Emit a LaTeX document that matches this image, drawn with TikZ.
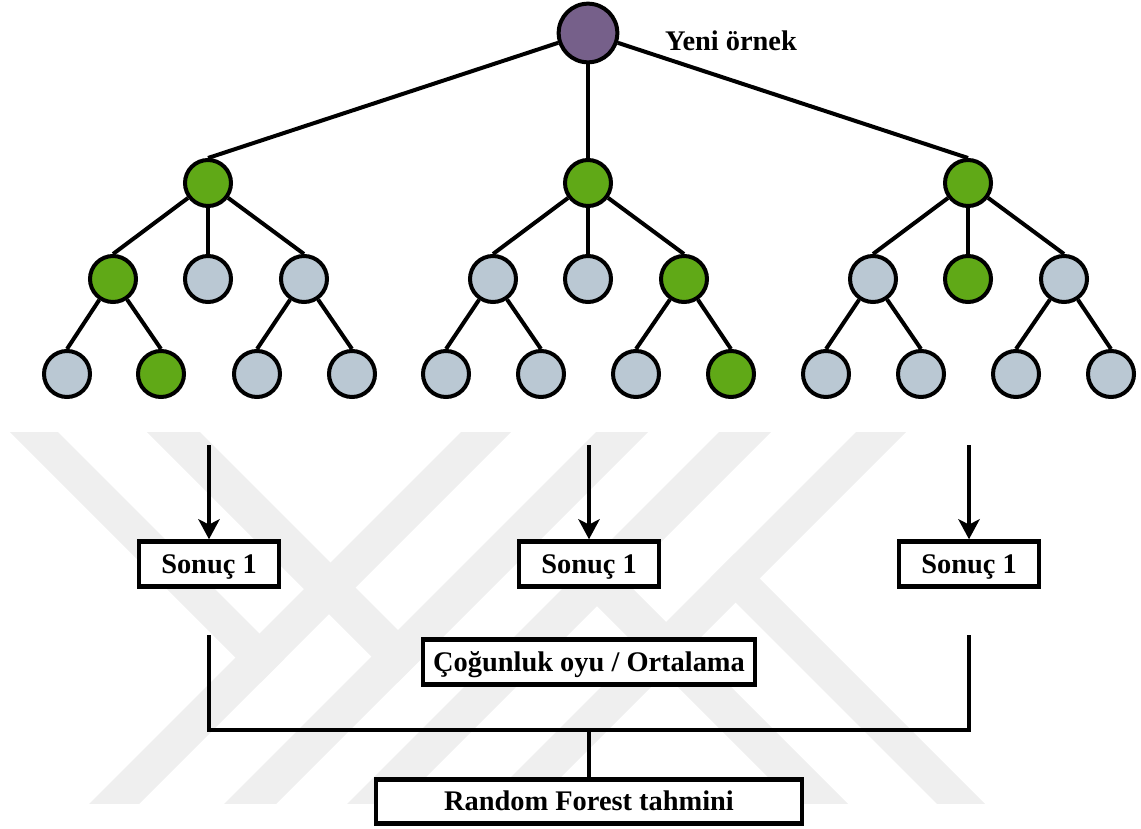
\documentclass[tikz,border=0pt]{standalone}
\usepackage{fontspec}
\setmainfont{Liberation Serif}
\usetikzlibrary{arrows.meta}
\definecolor{rootfill}{HTML}{76608A}
\definecolor{pathfill}{HTML}{60A917}
\definecolor{leaffill}{HTML}{BAC8D3}
\definecolor{markgray}{HTML}{EFEFEF}

\begin{document}
\begin{tikzpicture}[x=0.75pt,y=-0.75pt,
  every node/.style={font=\fontsize{21.3}{25}\selectfont\bfseries},
  vtx/.style={circle,draw=black,line width=3pt,minimum size=34.5pt,inner sep=0pt},
  onpath/.style={vtx,fill=pathfill},
  offpath/.style={vtx,fill=leaffill},
  rootvtx/.style={vtx,fill=rootfill,minimum size=44pt},
  branch/.style={line width=3pt},
  joinline/.style={line width=2.6pt},
  result/.style={draw=black,line width=3.4pt,fill=white,minimum height=33.75pt,
    inner sep=0pt,text height=14pt,text depth=0pt},
  flow/.style={line width=3pt,-{Stealth[length=15pt,width=16pt,inset=4pt]}},
  band/.style={fill=markgray,draw=none}
]
\useasboundingbox (0,0) rectangle (1141,828);

% faint background emblem: two nested y-strokes and their point reflection
\begin{scope}
  \clip (0,432) rectangle (1141,803);
  \foreach \ang in {0,180}{
    \begin{scope}[rotate around={\ang:(497.5,618)}]
      \fill[band] (493,400) -- (543,400) -- (103,840) -- (53,840) -- cycle;
      \fill[band] (628,400) -- (680,400) -- (240,840) -- (188,840) -- cycle;
      \fill[band] (-22,400) -- (26,400) -- (284.5,658.5) -- (260.5,682.5) -- cycle;
      \fill[band] (115,400) -- (168,400) -- (424,656) -- (397.5,682.5) -- cycle;
    \end{scope}
  }
\end{scope}

% root sample
\node[rootvtx] (r) at (588,33) {};
\node[anchor=base] (lbl) at (731,50) {Yeni örnek};

% first level of each tree
\node[onpath] (a) at (208,183) {};
\node[onpath] (b) at (588,183) {};
\node[onpath] (c) at (968,183) {};

% second level
\node[onpath]  (a1) at (113,279) {};
\node[offpath] (a2) at (208,279) {};
\node[offpath] (a3) at (304,279) {};
\node[offpath] (b1) at (493,279) {};
\node[offpath] (b2) at (588,279) {};
\node[onpath]  (b3) at (684,279) {};
\node[offpath] (c1) at (873,279) {};
\node[onpath]  (c2) at (968,279) {};
\node[offpath] (c3) at (1064,279) {};

% leaves
\node[offpath] (a11) at (67,374) {};
\node[onpath]  (a12) at (161,374) {};
\node[offpath] (a31) at (257,374) {};
\node[offpath] (a32) at (352,374) {};
\node[offpath] (b11) at (446,374) {};
\node[offpath] (b12) at (541,374) {};
\node[offpath] (b31) at (636,374) {};
\node[onpath]  (b32) at (731,374) {};
\node[offpath] (c11) at (826,374) {};
\node[offpath] (c12) at (921,374) {};
\node[offpath] (c31) at (1016,374) {};
\node[offpath] (c32) at (1111,374) {};

% tree edges
\foreach \p/\q in {r/a,r/b,r/c,
  a/a1,a/a2,a/a3,b/b1,b/b2,b/b3,c/c1,c/c2,c/c3,
  a1/a11,a1/a12,a3/a31,a3/a32,b1/b11,b1/b12,b3/b31,b3/b32,
  c1/c11,c1/c12,c3/c31,c3/c32}
  \draw[branch] (\p) -- (\q.north);

% per-tree results
\node[result,minimum width=105pt] (s1) at (209,564) {Sonuç 1};
\node[result,minimum width=105pt] (s2) at (589,564) {Sonuç 1};
\node[result,minimum width=105pt] (s3) at (969,564) {Sonuç 1};

\coordinate (t1) at (209,445);
\coordinate (t2) at (589,445);
\coordinate (t3) at (969,445);
\draw[flow] (t1) -- (s1);
\draw[flow] (t2) -- (s2);
\draw[flow] (t3) -- (s3);

% aggregation
\node[result,minimum width=249pt] (vote) at (589,662) {Çoğunluk oyu / Ortalama};
\node[result,minimum width=319.5pt,minimum height=33pt] (rf) at (589,801.5) {Random Forest tahmini};

\coordinate (g1) at (209,635);
\coordinate (g3) at (969,635);
\coordinate (gm) at (589,730);
\draw[joinline] (g1) |- (gm) -| (g3);
\draw[joinline] (gm) -- (rf);
\end{tikzpicture}
\end{document}
